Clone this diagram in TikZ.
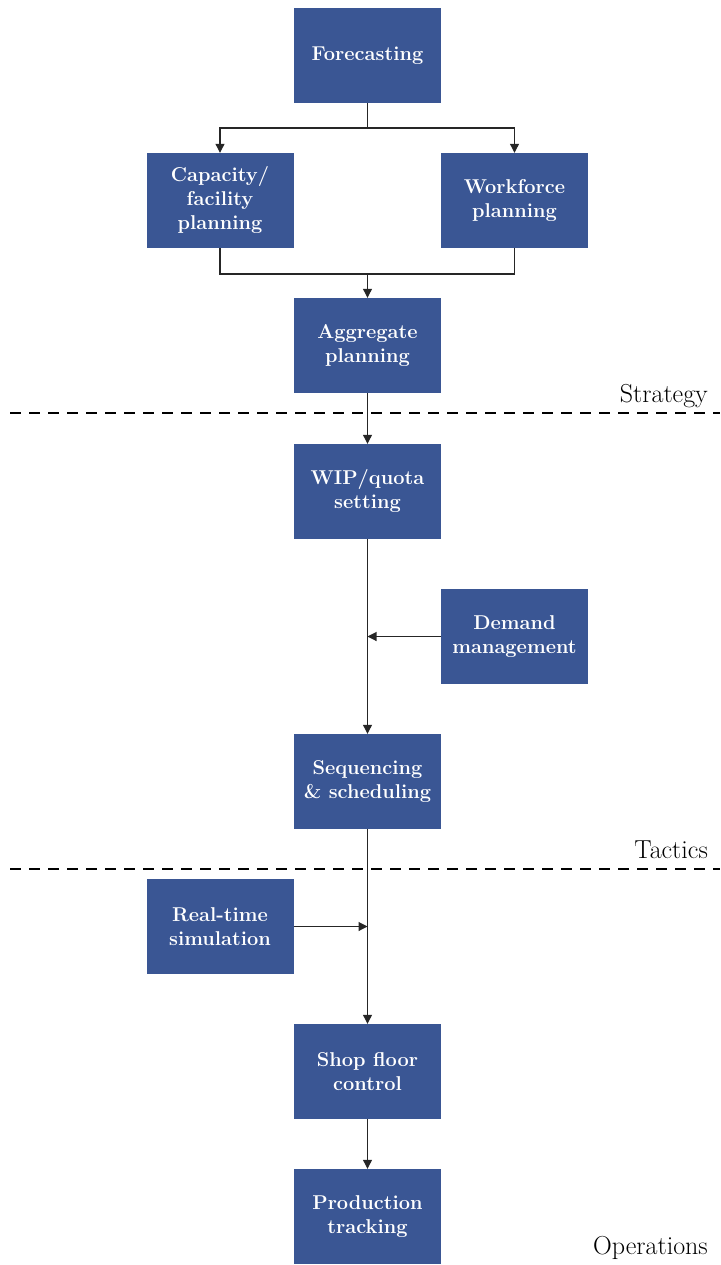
\documentclass[tikz,border=0pt]{standalone}
\usetikzlibrary{arrows.meta}
\definecolor{boxblue}{RGB}{58,86,148}
\begin{document}
\begin{tikzpicture}[x=1pt,y=-1pt,
  stage/.style={draw=none,fill=boxblue,minimum width=147pt,minimum height=95pt,
    inner sep=0pt,align=center,text=white,
    font=\fontsize{20}{24}\selectfont\bfseries},
  link/.style={draw=black!85,line width=1.1pt},
  flow/.style={link,-{Triangle[length=9pt,width=9pt]}},
  divider/.style={dashed,line width=2pt,dash pattern=on 11pt off 8pt},
  level/.style={anchor=east,inner sep=0pt,font=\fontsize{26}{30}\selectfont}]
\useasboundingbox (0,0) rectangle (720,1265);

% planning stages
\node[stage] (fc)  at (367.5,55.5)   {Forecasting};
\node[stage] (cap) at (220,200.5)    {Capacity/\\facility\\planning};
\node[stage] (wf)  at (514.5,200.5)  {Workforce\\planning};
\node[stage] (agg) at (367.5,345.5)  {Aggregate\\planning};
\node[stage] (wip) at (367.5,491.5)  {WIP/quota\\setting};
\node[stage] (dm)  at (514.5,636.5)  {Demand\\management};
\node[stage] (seq) at (367.5,781.5)  {Sequencing\\\& scheduling};
\node[stage] (rts) at (220,926.5)    {Real-time\\simulation};
\node[stage] (sfc) at (367.5,1071.5) {Shop floor\\control};
\node[stage] (pt)  at (367.5,1216.5) {Production\\tracking};

% junction points
\coordinate (split) at (367.5,128);
\coordinate (merge) at (367.5,274);
\coordinate (dmin)  at (367.5,636.5);
\coordinate (rtsin) at (367.5,926.5);

% forecasting splits into two planning branches
\draw[link] (fc.south) -- (split);
\draw[flow] (split) -| (cap.north);
\draw[flow] (split) -| (wf.north);

% branches merge into aggregate planning
\draw[link] (cap.south) |- (merge);
\draw[link] (wf.south) |- (merge);
\draw[flow] (merge) -- (agg.north);

% main vertical chain
\draw[flow] (agg.south) -- (wip.north);
\draw[flow] (wip.south) -- (seq.north);
\draw[flow] (seq.south) -- (sfc.north);
\draw[flow] (sfc.south) -- (pt.north);

% side inputs
\draw[flow] (dm.west) -- (dmin);
\draw[flow] (rts.east) -- (rtsin);

% level dividers
\coordinate (d1l) at (10,413);  \coordinate (d1r) at (720,413);
\coordinate (d2l) at (10,869);  \coordinate (d2r) at (720,869);
\draw[divider] (d1l) -- (d1r);
\draw[divider] (d2l) -- (d2r);

\node[level] (lstr) at (708,396)  {Strategy};
\node[level] (ltac) at (708,850)  {Tactics};
\node[level] (lops) at (708,1248) {Operations};
\end{tikzpicture}
\end{document}
